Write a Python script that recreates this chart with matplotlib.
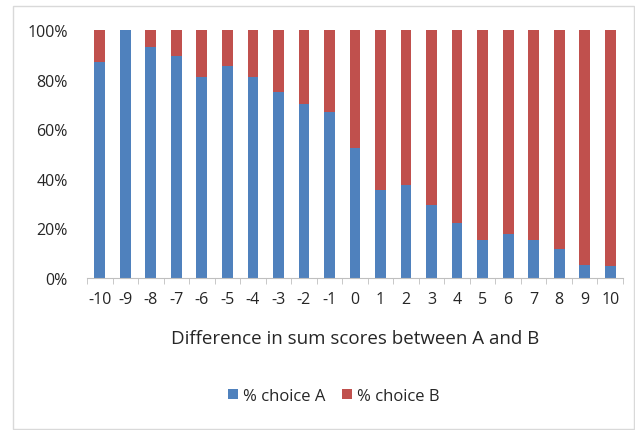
import matplotlib.pyplot as plt
from matplotlib.patches import Rectangle
from matplotlib.ticker import FixedLocator, PercentFormatter
import numpy as np

# data
diffs = [str(d) for d in range(-10, 11)]
choice_a = [87.0, 100.0, 93.1, 89.5, 81.2, 85.4, 81.2, 74.9, 70.2, 67.0, 52.5,
            35.4, 37.5, 29.5, 22.2, 15.5, 17.8, 15.5, 11.5, 5.3, 5.0]
choice_b = [100 - a for a in choice_a]

plt.rcParams['font.family'] = ['Open Sans', 'DejaVu Sans']

fig = plt.figure(figsize=(6.35, 4.31), dpi=100)
ax = fig.add_axes([87/635, 1 - 279/431, 536/635, 248/431])

x = np.arange(len(diffs))
ax.bar(x, choice_a, width=0.42, color='#4F81BD', label='% choice A')
ax.bar(x, choice_b, width=0.42, bottom=choice_a, color='#C0504D', label='% choice B')

ax.set_xlim(-0.5, len(diffs) - 0.5)
ax.set_ylim(0, 100)
ax.set_yticks(range(0, 101, 20))
ax.yaxis.set_major_formatter(PercentFormatter(decimals=0))
ax.set_xticks(x)
ax.set_xticklabels(diffs)
ax.xaxis.set_minor_locator(FixedLocator(np.arange(-0.5, len(diffs), 1)))

for s in ['top', 'right', 'left']:
    ax.spines[s].set_visible(False)
ax.spines['bottom'].set_color('#BFBFBF')
ax.tick_params(axis='y', length=0, pad=14, labelsize=11.5, labelcolor='#262626')
ax.tick_params(axis='x', which='major', length=0, pad=9, labelsize=11.5, labelcolor='#262626')
ax.tick_params(axis='x', which='minor', length=4, color='#BFBFBF')

ax.set_xlabel('Difference in sum scores between A and B', fontsize=13.5,
              color='#262626', labelpad=16)

fig.legend(loc='center', bbox_to_anchor=(334/635, 1 - 397/431), ncol=2, frameon=False,
           fontsize=12, handlelength=0.6, handleheight=0.6, handletextpad=0.3,
           columnspacing=1.0, labelcolor='#262626')

# light frame around the chart
fig.patches.append(Rectangle((13/635, 1/431), 621/635, 423/431, transform=fig.transFigure,
                             fill=False, edgecolor='#D9D9D9', linewidth=1))

fig.savefig('out.png', dpi=100)
